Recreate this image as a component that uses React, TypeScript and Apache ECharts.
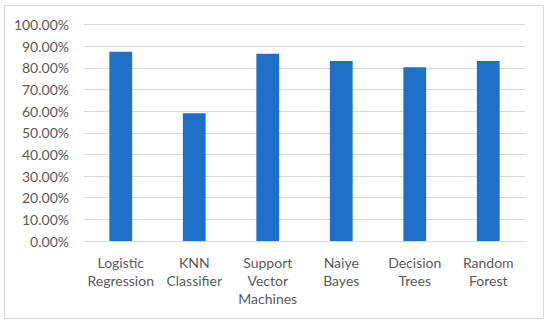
import React, { useEffect, useRef } from "react";
import * as echarts from "echarts";

const categories = [
  "Logistic\nRegression",
  "KNN\nClassifier",
  "Support\nVector\nMachines",
  "Naiye\nBayes",
  "Decision\nTrees",
  "Random\nForest",
];
const accuracy = [0.874, 0.59, 0.865, 0.831, 0.802, 0.831];

export default function App() {
  const ref = useRef<HTMLDivElement>(null);
  useEffect(() => {
    document.body.style.margin = "0";
    const chart = echarts.init(ref.current!, null, { renderer: "svg" });
    chart.setOption({
      animation: false,
      backgroundColor: "#ffffff",
      graphic: [
        {
          type: "rect",
          shape: { x: 4.5, y: 5.5, width: 539, height: 313 },
          style: { fill: "none", stroke: "#d9d9d9", lineWidth: 1 },
          silent: true,
        },
      ],
      grid: { left: 84, right: 25, top: 24.5, bottom: 86 },
      xAxis: {
        type: "category",
        data: categories,
        axisTick: { show: false },
        axisLine: { lineStyle: { color: "#d9d9d9" } },
        axisLabel: {
          interval: 0,
          color: "#595959",
          fontFamily: "Lato",
          fontSize: 14,
          lineHeight: 18,
          margin: 12,
        },
      },
      yAxis: {
        type: "value",
        min: 0,
        max: 1,
        interval: 0.1,
        axisLine: { show: false },
        axisTick: { show: false },
        splitLine: { lineStyle: { color: "#d9d9d9" } },
        axisLabel: {
          color: "#595959",
          fontFamily: "Lato",
          fontSize: 14,
          margin: 15,
          formatter: (v: number) => (v * 100).toFixed(2) + "%",
        },
      },
      series: [
        {
          type: "bar",
          data: accuracy,
          barWidth: "31%",
          itemStyle: { color: "#1f70c8" },
        },
      ],
    });
    return () => chart.dispose();
  }, []);
  return <div ref={ref} style={{ width: 550, height: 327 }} />;
}
